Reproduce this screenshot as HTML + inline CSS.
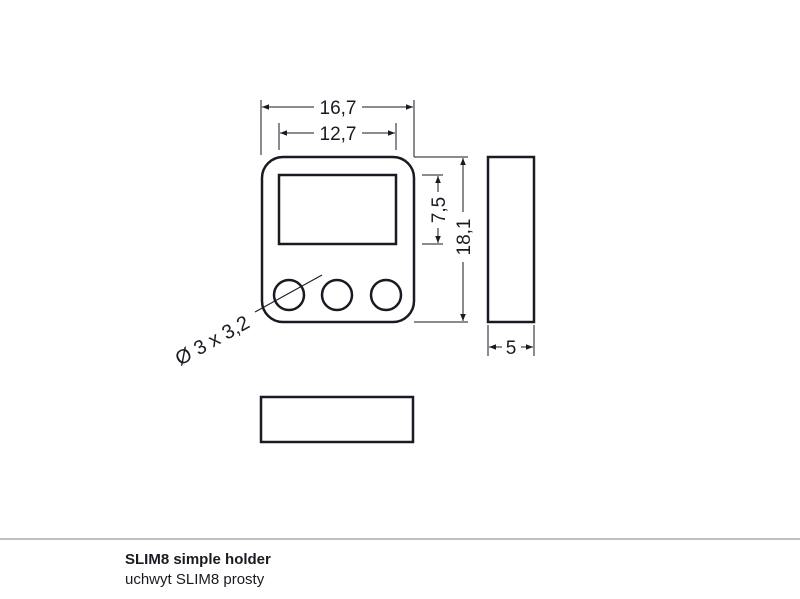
<!DOCTYPE html>
<html><head><meta charset="utf-8"><style>
html,body{margin:0;padding:0;background:#fff;}
svg{display:block;}
text{font-family:"Liberation Sans",sans-serif;fill:#1a1a22;}
</style></head><body>
<svg width="800" height="599" viewBox="0 0 800 599" xmlns="http://www.w3.org/2000/svg">
<defs>
<marker id="a" viewBox="0 0 10 10" refX="10" refY="5" markerWidth="9" markerHeight="7" orient="auto-start-reverse" markerUnits="userSpaceOnUse"><path d="M0,1 L10,5 L0,9 z" fill="#1a1a22"/></marker>
</defs>
<g fill="none" stroke="#1a1a22">
<rect x="262" y="157" width="152" height="165" rx="21" stroke-width="2.5"/>
<rect x="279" y="175" width="117" height="69" stroke-width="2.5"/>
<circle cx="289" cy="295" r="15" stroke-width="2.5"/>
<circle cx="337" cy="295" r="15" stroke-width="2.5"/>
<circle cx="386" cy="295" r="15" stroke-width="2.5"/>
<rect x="488" y="157" width="46" height="165" stroke-width="2.5"/>
<rect x="261" y="397" width="152" height="45" stroke-width="2.5"/>
<g stroke-width="1">
<line x1="261" y1="100" x2="261" y2="155"/>
<line x1="414" y1="100" x2="414" y2="157"/>
<line x1="414" y1="157" x2="468" y2="157"/>
<line x1="414" y1="322" x2="468" y2="322"/>
<line x1="279" y1="123" x2="279" y2="150"/>
<line x1="396" y1="123" x2="396" y2="150"/>
<line x1="422" y1="175" x2="443" y2="175"/>
<line x1="422" y1="244" x2="443" y2="244"/>
<line x1="488" y1="325" x2="488" y2="356"/>
<line x1="534" y1="325" x2="534" y2="356"/>
<line x1="262" y1="107" x2="314" y2="107" marker-start="url(#a)"/>
<line x1="362" y1="107" x2="413" y2="107" marker-end="url(#a)"/>
<line x1="280" y1="133" x2="314" y2="133" marker-start="url(#a)"/>
<line x1="362" y1="133" x2="395" y2="133" marker-end="url(#a)"/>
<line x1="438" y1="176" x2="438" y2="192" marker-start="url(#a)"/>
<line x1="438" y1="228" x2="438" y2="243" marker-end="url(#a)"/>
<line x1="463" y1="158" x2="463" y2="212" marker-start="url(#a)"/>
<line x1="463" y1="262" x2="463" y2="321" marker-end="url(#a)"/>
<line x1="489" y1="347" x2="502" y2="347" marker-start="url(#a)"/>
<line x1="521" y1="347" x2="533" y2="347" marker-end="url(#a)"/>
<line x1="322" y1="275" x2="255" y2="312"/>
</g>
</g>
<text x="338" y="114" font-size="19" text-anchor="middle">16,7</text>
<text x="338" y="140" font-size="19" text-anchor="middle">12,7</text>
<text transform="translate(445,210) rotate(-90)" font-size="19" text-anchor="middle">7,5</text>
<text transform="translate(470,237) rotate(-90)" font-size="19" text-anchor="middle">18,1</text>
<text x="511" y="354" font-size="19" text-anchor="middle">5</text>
<text transform="translate(180,366) rotate(-29)" font-size="20">Ø 3 x 3,2</text>
<line x1="0" y1="539" x2="800" y2="539" stroke="#aaa" stroke-width="1.5"/>
<text x="125" y="564" font-size="15" font-weight="bold">SLIM8 simple holder</text>
<text x="125" y="584" font-size="15">uchwyt SLIM8 prosty</text>
</svg>
</body></html>
